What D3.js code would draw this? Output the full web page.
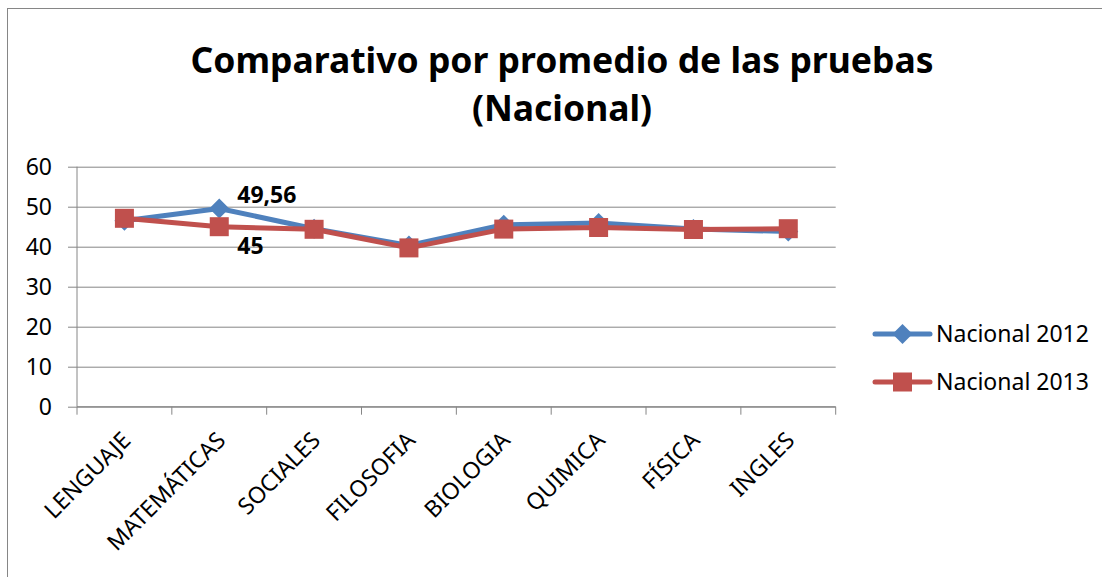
<!DOCTYPE html>
<html lang="es">
  <head>
    <meta charset="UTF-8">
    <title>Comparativo por promedio de las pruebas</title>
    <script src="https://d3js.org/d3.v7.min.js"></script>
    <style>
      body { margin: 0; background: #fff; }
      svg { display: block; font-family: "Noto Sans", sans-serif; }
    </style>
  </head>
  <body>
    <svg id="chart" width="1102" height="577"></svg>
    <script>
    // data
    var categories = ["LENGUAJE", "MATEMÁTICAS", "SOCIALES", "FILOSOFIA", "BIOLOGIA", "QUIMICA", "FÍSICA", "INGLES"];
    var nacional2012 = [46.5, 49.56, 44.5, 40.3, 45.5, 45.9, 44.4, 43.8];
    var nacional2013 = [47.1, 45, 44.35, 39.7, 44.4, 44.8, 44.3, 44.5];
    var seriesNames = ["Nacional 2012", "Nacional 2013"];
    var yTicks = [0, 10, 20, 30, 40, 50, 60];
    var titleLines = ["Comparativo por promedio de las pruebas", "(Nacional)"];

    var svg = d3.select("#chart");
    var gridColor = "#868686";
    var colors = ["#4F81BD", "#C0504D"];

    // outer chart border (runs past the picture's right and bottom edge)
    svg.append("rect")
      .attr("x", 7.5).attr("y", 8.5)
      .attr("width", 1110).attr("height", 600)
      .attr("fill", "none").attr("stroke", gridColor).attr("stroke-width", 1);

    // title
    svg.append("text")
      .attr("x", 562).attr("y", 73)
      .attr("text-anchor", "middle")
      .style("font-weight", "bold").style("font-size", "35.5px")
      .selectAll("tspan").data(titleLines).enter().append("tspan")
        .attr("x", 562)
        .attr("dy", function(d, i) { return i == 0 ? 0 : 48; })
        .text(function(d) { return d; });

    var plotL = 77, plotR = 835.7, plotT = 166.7, plotB = 406.7;
    var x = d3.scaleBand().domain(categories).range([plotL, plotR]);
    var y = d3.scaleLinear().domain([0, 60]).range([plotB, plotT]);
    var cx = function(d, i) { return x(categories[i]) + x.bandwidth() / 2; };

    // gridlines + y axis
    var yAxis = svg.append("g")
      .attr("transform", "translate(" + plotL + ",0)")
      .call(d3.axisLeft(y).tickValues(yTicks).tickSize(-(plotR - plotL)).tickSizeOuter(0).tickPadding(25));
    yAxis.select(".domain").remove();
    yAxis.selectAll(".tick line").attr("stroke", gridColor).attr("x1", -9);
    yAxis.selectAll(".tick text")
      .attr("font-family", "Noto Sans").style("font-size", "23px").attr("fill", "#000").attr("dy", "0.35em");
    svg.append("line")
      .attr("x1", plotL).attr("x2", plotL).attr("y1", plotT).attr("y2", plotB)
      .attr("stroke", gridColor);

    // x axis with ticks at category boundaries
    svg.append("line")
      .attr("x1", plotL).attr("x2", plotR).attr("y1", plotB).attr("y2", plotB)
      .attr("stroke", gridColor);
    svg.append("g").selectAll("line")
      .data(d3.range(categories.length + 1)).enter().append("line")
      .attr("x1", function(d) { return plotL + d * x.step(); })
      .attr("x2", function(d) { return plotL + d * x.step(); })
      .attr("y1", plotB).attr("y2", plotB + 8)
      .attr("stroke", gridColor);
    svg.append("g").selectAll("text")
      .data(categories).enter().append("text")
      .attr("transform", function(d) {
        return "translate(" + (x(d) + x.bandwidth() / 2 + 2) + "," + 436 + ") rotate(-45)";
      })
      .attr("text-anchor", "end").attr("dy", "0.35em")
      .style("font-size", "23px")
      .text(function(d) { return d; });

    var line = d3.line().x(cx).y(function(d) { return y(d); });

    // series 2012: line + diamonds
    svg.append("path").datum(nacional2012)
      .attr("d", line).attr("fill", "none")
      .attr("stroke", colors[0]).attr("stroke-width", 5).attr("stroke-linejoin", "round");
    svg.append("g").selectAll("path")
      .data(nacional2012).enter().append("path")
      .attr("d", "M0,-10L10,0L0,10L-10,0Z")
      .attr("transform", function(d, i) { return "translate(" + cx(d, i) + "," + y(d) + ")"; })
      .attr("fill", colors[0]);

    // series 2013: line + squares
    svg.append("path").datum(nacional2013)
      .attr("d", line).attr("fill", "none")
      .attr("stroke", colors[1]).attr("stroke-width", 5).attr("stroke-linejoin", "round");
    svg.append("g").selectAll("rect")
      .data(nacional2013).enter().append("rect")
      .attr("x", function(d, i) { return cx(d, i) - 9.5; })
      .attr("y", function(d) { return y(d) - 9.5; })
      .attr("width", 19).attr("height", 19)
      .attr("fill", colors[1]);

    // data labels on MATEMÁTICAS
    var mi = 1;
    svg.append("text")
      .attr("x", cx(0, mi) + 18).attr("y", y(nacional2012[mi]) - 5)
      .style("font-weight", "bold").style("font-size", "23px")
      .text(String(nacional2012[mi]).replace(".", ","));
    svg.append("text")
      .attr("x", cx(0, mi) + 18).attr("y", y(nacional2013[mi]) + 27)
      .style("font-weight", "bold").style("font-size", "23px")
      .text(String(nacional2013[mi]).replace(".", ","));

    // legend
    var legend = svg.append("g").selectAll("g")
      .data(seriesNames).enter().append("g")
      .attr("transform", function(d, i) { return "translate(875," + (334 + i * 48) + ")"; });
    legend.append("line")
      .attr("x1", 0).attr("x2", 55)
      .attr("stroke", function(d, i) { return colors[i]; })
      .attr("stroke-width", 5).attr("stroke-linecap", "round");
    legend.filter(function(d, i) { return i == 0; }).append("path")
      .attr("d", "M27.5,-10L37.5,0L27.5,10L17.5,0Z").attr("fill", colors[0]);
    legend.filter(function(d, i) { return i == 1; }).append("rect")
      .attr("x", 18).attr("y", -9.5).attr("width", 19).attr("height", 19).attr("fill", colors[1]);
    legend.append("text")
      .attr("x", 61).attr("dy", "0.35em")
      .style("font-size", "23px")
      .text(function(d) { return d; });
    </script>
  </body>
</html>
